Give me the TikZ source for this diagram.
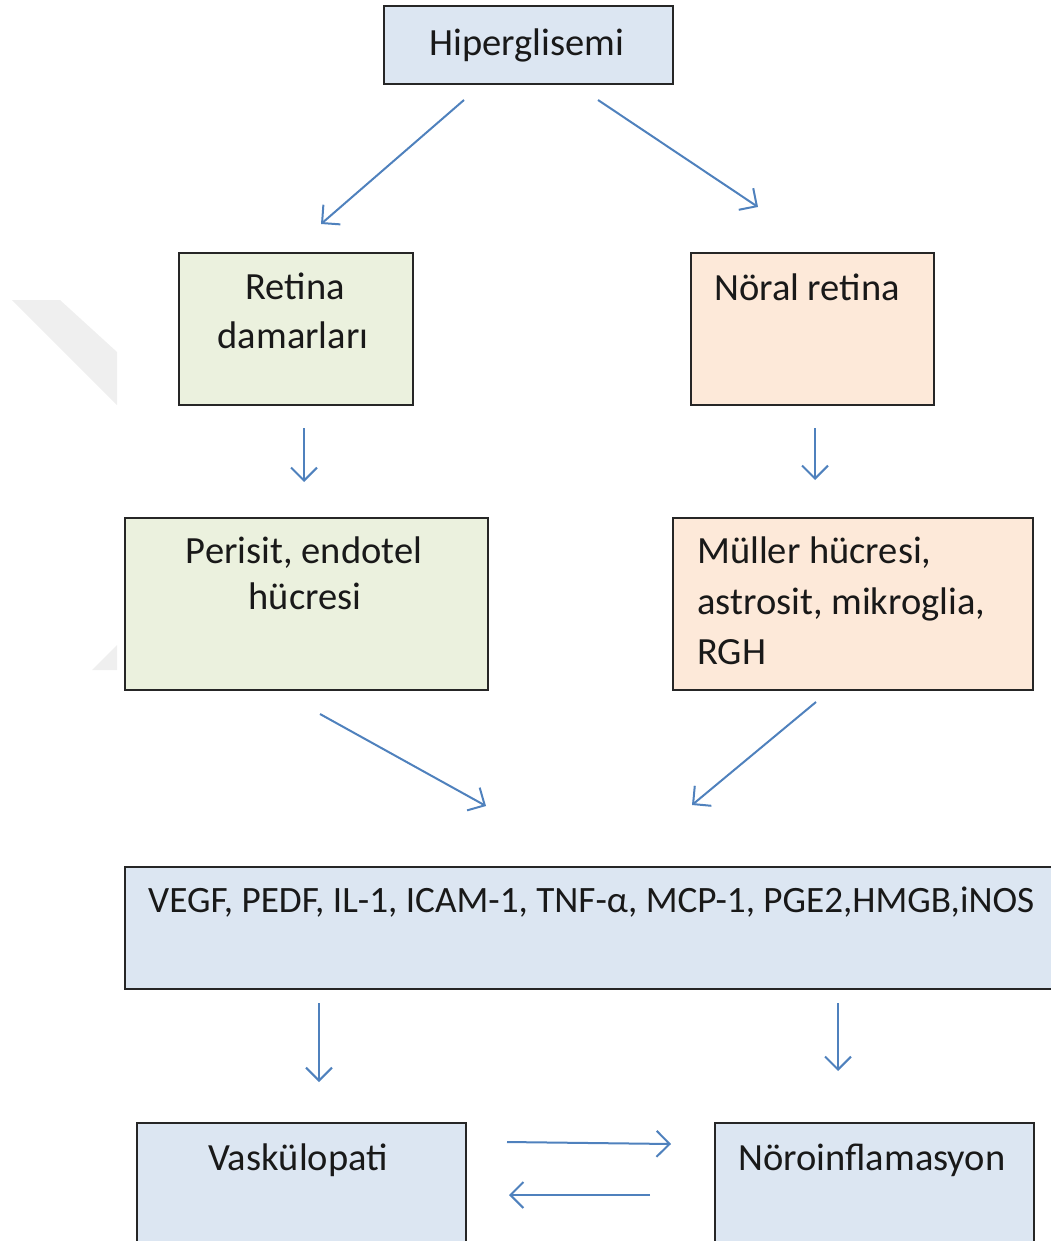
\documentclass[tikz,border=0pt]{standalone}
\usepackage{fontspec}
\setmainfont{Carlito}
\usetikzlibrary{arrows.meta}
\definecolor{boxblue}{HTML}{DCE6F2}
\definecolor{boxgreen}{HTML}{EBF1DE}
\definecolor{boxorange}{HTML}{FDE9D9}
\definecolor{arrowblue}{HTML}{4F81BD}
\definecolor{wmark}{HTML}{EFEFEF}
\tikzset{
  box/.style={draw=black!85, line width=1.6pt, anchor=north west, inner sep=0pt},
  txt/.style={font=\fontsize{38.5}{48}\selectfont, text=black!90, inner sep=0pt, anchor=base},
  ltxt/.style={txt, anchor=base west},
  flow/.style={draw=arrowblue, line width=2pt, -{Straight Barb[length=13pt,width=26pt,line width=2pt]}}
}
\begin{document}
\begin{tikzpicture}[x=1pt,y=-1pt]
\useasboundingbox (0,0) rectangle (1051,1241);
% faint watermark
\fill[wmark] (12,300) -- (60,300) -- (117,352) -- (117,405) -- cycle;
\fill[wmark] (92,670) -- (117,645) -- (117,670) -- cycle;
% boxes
\node[box, fill=boxblue, minimum width=289pt, minimum height=78pt] (hyp) at (383,5) {};
\node[txt] (hypt) at (527,56) {Hiperglisemi};
\node[box, fill=boxgreen, minimum width=234pt, minimum height=152pt] (ret) at (178,252) {};
\node[txt] (rett1) at (295,299) {Retina};
\node[txt] (rett2) at (293,348) {damarları};
\node[box, fill=boxorange, minimum width=243pt, minimum height=152pt] (nor) at (690,252) {};
\node[ltxt] (nort) at (714,300) {Nöral retina};
\node[box, fill=boxgreen, minimum width=363pt, minimum height=172pt] (per) at (124,517) {};
\node[txt] (pert1) at (304,563) {Perisit, endotel};
\node[txt] (pert2) at (305,609) {hücresi};
\node[box, fill=boxorange, minimum width=360pt, minimum height=172pt] (mul) at (672,517) {};
\node[ltxt] (mult1) at (697,563) {Müller hücresi,};
\node[ltxt] (mult2) at (697,614) {astrosit, mikroglia,};
\node[ltxt] (mult3) at (697,664) {RGH};
\node[box, fill=boxblue, minimum width=935pt, minimum height=122pt] (veg) at (124,866) {};
\node[ltxt, font=\fontsize{37.2}{46}\selectfont] (vegt) at (148,912) {VEGF, PEDF, IL-1, ICAM-1, TNF-α, MCP-1, PGE2,HMGB,iNOS};
\node[box, fill=boxblue, minimum width=329pt, minimum height=130pt] (vas) at (136,1122) {};
\node[txt] (vast) at (298,1170) {Vaskülopati};
\node[box, fill=boxblue, minimum width=319pt, minimum height=130pt] (neu) at (714,1122) {};
\node[txt] (neut) at (872,1170) {Nöroinflamasyon};
% arrow endpoints
\coordinate (a1s) at (464,100); \coordinate (a1e) at (321,224);
\coordinate (a2s) at (598,100); \coordinate (a2e) at (758,207);
\coordinate (a3s) at (304,428); \coordinate (a3e) at (304,482);
\coordinate (a4s) at (815,428); \coordinate (a4e) at (815,480);
\coordinate (a5s) at (320,714); \coordinate (a5e) at (486,806);
\coordinate (a6s) at (816,702); \coordinate (a6e) at (692,805);
\coordinate (a7s) at (319,1003); \coordinate (a7e) at (319,1082);
\coordinate (a8s) at (838,1003); \coordinate (a8e) at (838,1071);
\coordinate (a9s) at (507,1142); \coordinate (a9e) at (671,1144);
\coordinate (a10s) at (650,1195); \coordinate (a10e) at (509,1195);
\foreach \i in {1,...,10} { \draw[flow] (a\i s) -- (a\i e); }
\end{tikzpicture}
\end{document}
